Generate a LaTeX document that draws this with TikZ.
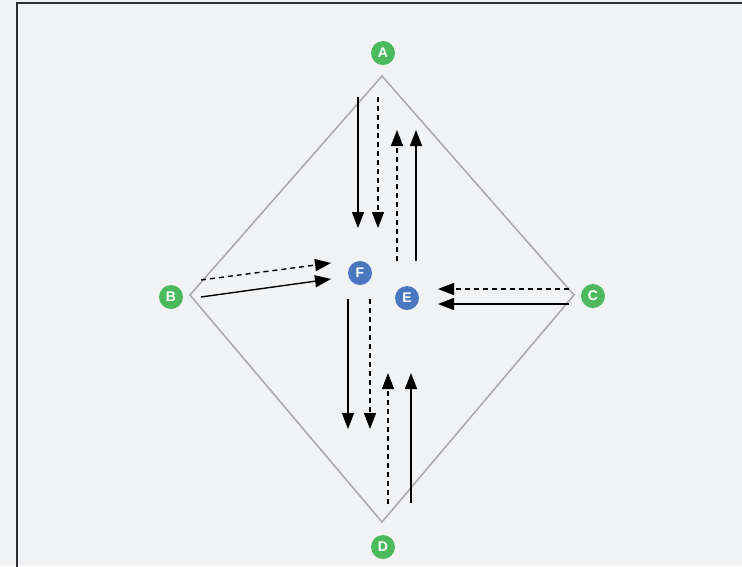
\documentclass[tikz,border=0pt]{standalone}
\usepackage{fontspec}
\setmainfont{Liberation Sans}
\usetikzlibrary{arrows.meta}
\definecolor{bgc}{HTML}{F1F2F4}
\definecolor{framec}{HTML}{2E2F33}
\definecolor{greenc}{HTML}{4CB95C}
\definecolor{bluec}{HTML}{4A78C0}
\definecolor{diamc}{HTML}{A8A8AA}
\tikzset{
  lbl/.style={circle,minimum size=24pt,inner sep=0pt,text=white,font=\bfseries\fontsize{14}{14}\selectfont},
  gnode/.style={lbl,fill=greenc},
  bnode/.style={lbl,fill=bluec},
  flow/.style={line width=1.4pt,-{Triangle[length=16pt,width=12pt]}},
  dflow/.style={flow,dash pattern=on 5pt off 4pt},
  diam/.style={draw=diamc,line width=1.5pt,line join=miter}
}
\begin{document}
\begin{tikzpicture}[x=1pt,y=-1pt]
\useasboundingbox (0,0) rectangle (742,566);
\fill[bgc] (0,0) rectangle (742,566);
\draw[framec,line width=2.5pt] (17,580) -- (17,3) -- (760,3);
% diamond
\coordinate (tA) at (382,76);
\coordinate (tB) at (190,295);
\coordinate (tC) at (574,295);
\coordinate (tD) at (382,522);
\draw[diam] (tA) -- (tC) -- (tD) -- (tB) -- cycle;
% labels
\node[gnode] (A) at (383,53) {A};
\node[gnode] (B) at (171,297) {B};
\node[gnode] (C) at (593,296) {C};
\node[gnode] (D) at (383,547) {D};
\node[bnode] (F) at (360,273) {F};
\node[bnode] (E) at (407,298) {E};
% A arrows
\coordinate (a1s) at (358,97);  \coordinate (a1e) at (358,228);
\coordinate (a2s) at (378,97);  \coordinate (a2e) at (378,228);
\coordinate (a3s) at (397,261); \coordinate (a3e) at (397,130);
\coordinate (a4s) at (416,261); \coordinate (a4e) at (416,130);
\draw[flow] (a1s) -- (a1e);
\draw[dflow] (a2s) -- (a2e);
\draw[dflow] (a3s) -- (a3e);
\draw[flow] (a4s) -- (a4e);
% B arrows
\coordinate (b1s) at (201,280); \coordinate (b1e) at (331,263);
\coordinate (b2s) at (201,297); \coordinate (b2e) at (331,279);
\draw[dflow] (b1s) -- (b1e);
\draw[flow] (b2s) -- (b2e);
% C arrows
\coordinate (c1s) at (569,289); \coordinate (c1e) at (438,289);
\coordinate (c2s) at (569,304); \coordinate (c2e) at (438,304);
\draw[dflow] (c1s) -- (c1e);
\draw[flow] (c2s) -- (c2e);
% D arrows
\coordinate (d1s) at (348,299); \coordinate (d1e) at (348,429);
\coordinate (d2s) at (370,299); \coordinate (d2e) at (370,429);
\coordinate (d3s) at (388,504); \coordinate (d3e) at (388,373);
\coordinate (d4s) at (411,503); \coordinate (d4e) at (411,373);
\draw[flow] (d1s) -- (d1e);
\draw[dflow] (d2s) -- (d2e);
\draw[dflow] (d3s) -- (d3e);
\draw[flow] (d4s) -- (d4e);
\end{tikzpicture}
\end{document}
